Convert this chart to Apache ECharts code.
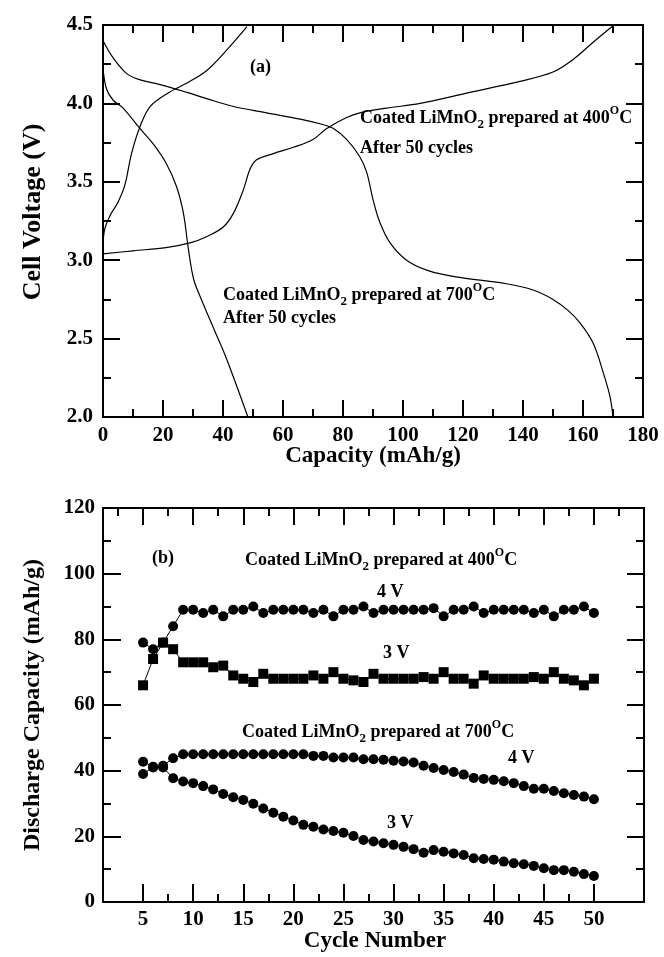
<!DOCTYPE html>
<html><head><meta charset="utf-8">
<script src="https://cdn.jsdelivr.net/npm/echarts@6/dist/echarts.min.js"></script>
<style>html,body{margin:0;padding:0;background:#fff}#c{width:664px;height:957px}</style>
</head><body><div id="c"></div>
<script>
// ---------- Panel (a): voltage vs capacity ----------
const discharge700 = [[0,4.22],[1.2,4.09],[3.4,4.02],[6.7,3.97],[12.3,3.84],[16.8,3.74],[21,3.62],[24.5,3.47],[26.8,3.30],[28.4,3.08],[30.2,2.88],[33,2.74],[37,2.56],[41.2,2.37],[48.3,2.0]];
const charge700 = [[0,3.1],[0.6,3.2],[2.5,3.29],[5,3.37],[7.3,3.48],[9.5,3.68],[12.3,3.85],[15.7,3.98],[22,4.07],[28,4.13],[34.6,4.21],[41.2,4.34],[48,4.49]];
const discharge400 = [[0,4.40],[3.4,4.29],[7.9,4.19],[12.4,4.15],[19,4.12],[28,4.07],[34.6,4.03],[43.5,3.98],[54.5,3.94],[65.7,3.90],[72.3,3.87],[76.8,3.84],[81.2,3.77],[85.6,3.66],[87.9,3.56],[90.1,3.38],[92.3,3.24],[95.7,3.11],[101.2,3.00],[108.9,2.93],[118.9,2.89],[134.5,2.85],[143.4,2.81],[150,2.75],[155,2.68],[159,2.6],[163.4,2.47],[166.8,2.28],[169,2.13],[170,2.0]];
const charge400 = [[0,3.04],[10,3.06],[21,3.08],[29,3.11],[34.5,3.15],[40,3.21],[43.5,3.30],[46.8,3.45],[49,3.58],[51.2,3.64],[56.8,3.68],[63.5,3.72],[70,3.77],[74.6,3.84],[81.2,3.91],[85.6,3.94],[94.6,3.97],[105.7,4.00],[122.3,4.07],[139,4.14],[150,4.20],[156.7,4.28],[163.4,4.39],[169.7,4.49]];

// ---------- Panel (b): discharge capacity vs cycle ----------
const cycles = [5,6,7,8,9,10,11,12,13,14,15,16,17,18,19,20,21,22,23,24,25,26,27,28,29,30,31,32,33,34,35,36,37,38,39,40,41,42,43,44,45,46,47,48,49,50];
const cap400_4V = [79,77,79,84,89,89,88,89,87,89,89,90,88,89,89,89,89,88,89,87,89,89,90,88,89,89,89,89,89,89.5,87,89,89,90,88,89,89,89,89,88,89,87,89,89,90,88];
const cap400_3V = [66,74,79,77,73,73,73,71.5,72,69,68,67,69.5,68,68,68,68,69,68,70,68,67.5,67,69.5,68,68,68,68,68.5,68,70,68,68,66.5,69,68,68,68,68,68.5,68,70,68,67.5,66,68];
const cap700_4V = [42.7,41.2,41.5,43.8,45,45,45,45,45,45,45,45,45,45,45,45,45,44.5,44.5,44,44,44,43.5,43.5,43.3,43,42.8,42.5,41.5,40.8,40.2,39.6,38.8,37.8,37.5,37.2,36.8,36.2,35.3,34.5,34.5,33.8,33.1,32.6,32.1,31.3];
const cap700_3V = [39,41,41,37.7,36.7,36.2,35.3,34.3,32.9,31.9,31.1,29.9,28.5,27.2,26,24.8,23.5,22.9,22.1,21.6,21.1,20.1,18.9,18.4,17.9,17.4,16.8,16.1,15,15.8,15.3,14.8,14.3,13.3,13.1,12.9,12.3,11.8,11.5,11,10.3,9.7,9.7,9.2,8.5,7.9];

// tick values
const cycleMajorTicks = [5,10,15,20,25,30,35,40,45,50];
const cycleMinorTicks = [7.5,12.5,17.5,22.5,27.5,32.5,37.5,42.5,47.5];
const cycleTopMinorTicks = [2.5,7.5,12.5,17.5,22.5,27.5,32.5,37.5,42.5,47.5,52.5];

const FONT = '"Liberation Serif","Times New Roman",serif';
const BLACK = '#000';

function pairs(xs, ys){ return xs.map((x,i)=>[x, ys[i]]); }

function valAxis(o){
  const base = {
    type:'value', gridIndex:o.grid, position:o.pos, min:o.min, max:o.max,
    splitLine:{show:false},
    axisLine:{show:o.line!==false, onZero:false, lineStyle:{color:BLACK,width:2}},
    axisTick:{show:true, inside:true, length:o.tickLen||17, lineStyle:{color:BLACK,width:2}},
    minorTick:{show:!!o.minor, splitNumber:2, length:8, lineStyle:{color:BLACK,width:2}},
    axisLabel:{show:!!o.labels, color:BLACK, fontFamily:FONT, fontWeight:'bold', fontSize:21, margin:o.margin||8},
    splitArea:{show:false}
  };
  if (o.interval!=null) base.interval = o.interval;
  if (o.ticks) { base.axisTick.customValues = o.ticks; }
  if (o.labelValues) { base.axisLabel.customValues = o.labelValues; }
  if (o.fmt) { base.axisLabel.formatter = o.fmt; }
  return base;
}

const xAxes = [
  valAxis({grid:0,pos:'bottom',min:0,max:180,interval:20,minor:true,labels:true,margin:8}),
  valAxis({grid:0,pos:'top',min:0,max:180,interval:20,minor:true}),
  valAxis({grid:1,pos:'bottom',min:1,max:55,ticks:cycleMajorTicks,labels:true,labelValues:cycleMajorTicks,margin:7,tickLen:18}),
  valAxis({grid:1,pos:'bottom',min:1,max:55,ticks:cycleMinorTicks,line:false,tickLen:8}),
  valAxis({grid:1,pos:'top',min:1,max:55,ticks:cycleMajorTicks,tickLen:17}),
  valAxis({grid:1,pos:'top',min:1,max:55,ticks:cycleTopMinorTicks,line:false,tickLen:8})
];
const yAxes = [
  valAxis({grid:0,pos:'left',min:2,max:4.5,interval:0.5,minor:true,labels:true,margin:10,fmt:v=>v.toFixed(1)}),
  valAxis({grid:0,pos:'right',min:2,max:4.5,interval:0.5,minor:true}),
  valAxis({grid:1,pos:'left',min:0,max:120,interval:20,minor:true,labels:true,margin:8,tickLen:18}),
  valAxis({grid:1,pos:'right',min:0,max:120,interval:20,minor:true})
];

function curve(data){
  return {type:'line', xAxisIndex:0, yAxisIndex:0, data:data, smooth:0.35, showSymbol:false, symbol:'none',
    lineStyle:{color:BLACK,width:1.2}, silent:true};
}
function pts(ys, symbol){
  return {type:'line', xAxisIndex:2, yAxisIndex:2, data:pairs(cycles, ys), symbol:symbol, symbolSize:10,
    showAllSymbol:true, itemStyle:{color:BLACK}, lineStyle:{color:BLACK,width:1}, silent:true};
}

const richStyles = {
  t:{fontFamily:FONT,fontWeight:'bold',fontSize:18,lineHeight:26,fill:BLACK},
  sub:{fontFamily:FONT,fontWeight:'bold',fontSize:13,lineHeight:12,verticalAlign:'bottom',fill:BLACK},
  sup:{fontFamily:FONT,fontWeight:'bold',fontSize:12,lineHeight:12,verticalAlign:'top',fill:BLACK}
};
function label(x,y,text,size){
  return {type:'text', x:x, y:y, silent:true,
    style:{text:text, fill:BLACK, font:'bold '+(size||18)+'px '+FONT, align:'left', verticalAlign:'middle'}};
}
function richLabel(x,y,temp){
  return {type:'text', x:x, y:y, silent:true,
    style:{text:'{t|Coated LiMnO}{sub|2}{t| prepared at '+temp+'}{sup|O}{t|C}', rich:richStyles, align:'left', verticalAlign:'middle'}};
}
function axisName(x,y,text,size,rot){
  return {type:'text', x:x, y:y, rotation:rot||0, silent:true,
    style:{text:text, fill:BLACK, font:'bold '+size+'px '+FONT, align:'center', verticalAlign:'middle'}};
}

const option = {
  animation:false,
  backgroundColor:'#fff',
  grid:[
    {left:103, right:21, top:25, bottom:540, containLabel:false},
    {left:103, right:20, top:508, bottom:55, containLabel:false}
  ],
  xAxis:xAxes,
  yAxis:yAxes,
  series:[
    curve(discharge700), curve(charge700), curve(discharge400), curve(charge400),
    pts(cap400_4V,'circle'), pts(cap400_3V,'rect'), pts(cap700_4V,'circle'), pts(cap700_3V,'circle')
  ],
  graphic:[
    axisName(33,212,'Cell Voltage (V)',26,Math.PI/2),
    axisName(373,456,'Capacity (mAh/g)',23,0),
    axisName(33,705,'Discharge Capacity (mAh/g)',24,Math.PI/2),
    axisName(375,941,'Cycle Number',23,0),
    label(250,67,'(a)'),
    richLabel(360,118,'400'),
    label(360,148,'After 50 cycles'),
    richLabel(223,295,'700'),
    label(223,318,'After 50 cycles'),
    label(152,558,'(b)'),
    richLabel(245,560,'400'),
    label(377,592,'4 V'),
    label(383,653,'3 V'),
    richLabel(242,732,'700'),
    label(508,758,'4 V'),
    label(387,823,'3 V')
  ]
};
const chart = echarts.init(document.getElementById('c'));
chart.setOption(option);
// force the display list (including axis ticks) to be rebuilt and painted now
const zr = chart.getZr();
zr.storage.getDisplayList(true);
zr.refreshImmediately();
</script></body></html>
